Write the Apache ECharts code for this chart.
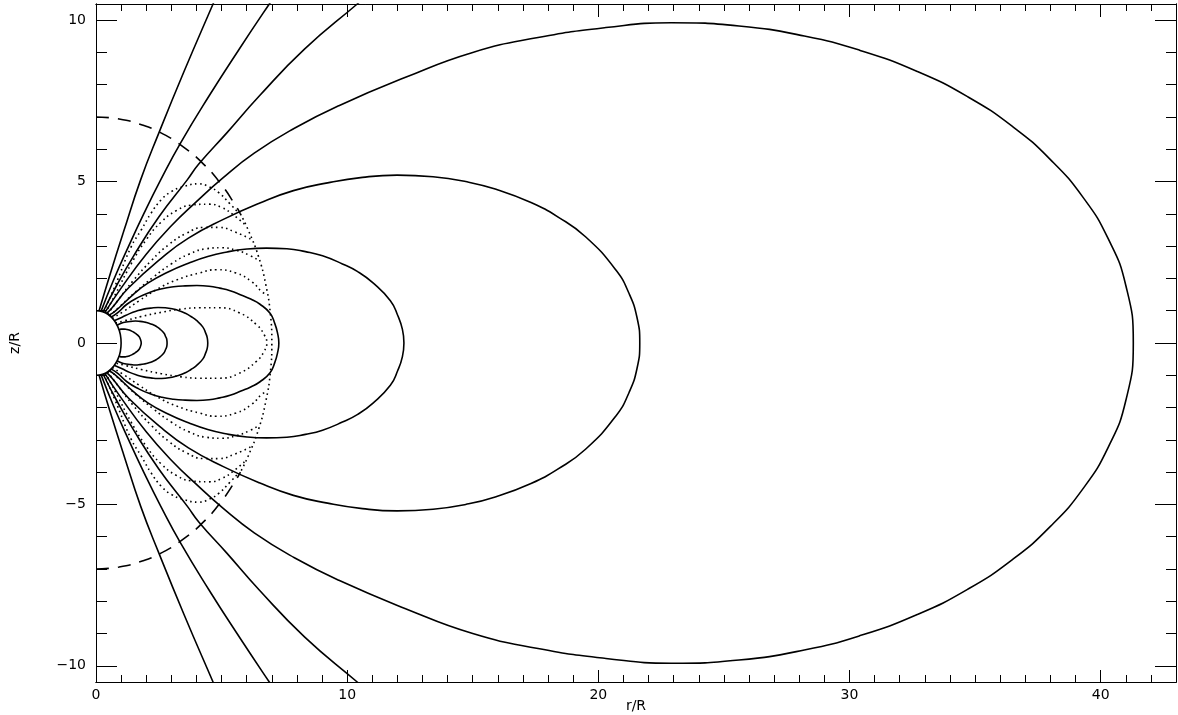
<!DOCTYPE html>
<html><head><meta charset="utf-8">
<script src="https://cdn.jsdelivr.net/npm/echarts@6/dist/echarts.min.js"></script>
<style>html,body{margin:0;padding:0;background:#fff}#c{width:1178px;height:715px}</style>
</head><body><div id="c"></div>
<script>
// ---- tick values ----
const xMajorTicks = [0, 10, 20, 30, 40];
const xMinorTicks = [0,1,2,3,4,5,6,7,8,9,10,11,12,13,14,15,16,17,18,19,20,21,22,23,24,25,26,27,28,29,30,31,32,33,34,35,36,37,38,39,40,41,42,43];
const yMajorTicks = [-10, -5, 0, 5, 10];
const yMinorTicks = [-10,-9,-8,-7,-6,-5,-4,-3,-2,-1,0,1,2,3,4,5,6,7,8,9,10];

// ---- star surface (upper half, r = 1) ----
const starUpper = [[0,1],[0.26,0.97],[0.5,0.87],[0.71,0.71],[0.87,0.5],[0.97,0.26],[1,0]];

// ---- closed solid field lines (upper halves) ----
const loop1 = [[0.92,0.4],[1.0,0.43],[1.12,0.43],[1.22,0.42],[1.32,0.4],[1.44,0.36],[1.53,0.32],[1.62,0.27],[1.72,0.19],[1.76,0.13],[1.79,0.06],[1.8,0]];
const loop2 = [[0.84,0.55],[1.03,0.62],[1.2,0.65],[1.39,0.67],[1.57,0.68],[1.75,0.67],[1.92,0.65],[2.08,0.62],[2.26,0.57],[2.41,0.51],[2.55,0.43],[2.71,0.3],[2.77,0.2],[2.82,0.1],[2.83,0]];
const loop3 = [[0.72,0.69],[1.04,0.8],[1.34,0.91],[1.62,0.99],[1.9,1.05],[2.18,1.08],[2.47,1.1],[2.76,1.09],[3.03,1.06],[3.28,1.01],[3.56,0.92],[3.78,0.82],[4.0,0.7],[4.25,0.5],[4.36,0.32],[4.43,0.16],[4.45,0]];
const loop4 = [[0.6,0.8],[0.88,0.95],[1.23,1.2],[1.7,1.42],[2.18,1.58],[2.63,1.68],[3.09,1.74],[3.55,1.77],[4.02,1.78],[4.5,1.76],[4.93,1.7],[5.34,1.62],[5.8,1.48],[6.16,1.36],[6.53,1.2],[6.93,0.92],[7.12,0.6],[7.23,0.3],[7.28,0]];
const loop5 = [[0.5,0.86],[0.74,0.97],[1.48,1.5],[2.08,1.86],[2.87,2.2],[3.68,2.47],[4.45,2.68],[5.22,2.82],[6.01,2.91],[6.79,2.94],[7.6,2.92],[8.34,2.83],[9.02,2.7],[9.81,2.45],[10.42,2.21],[11.03,1.86],[11.72,1.31],[12.01,0.86],[12.2,0.42],[12.26,0]];
const loop6 = [[0.42,0.91],[0.65,1.1],[1.3,1.71],[2.62,2.64],[3.68,3.25],[5.07,3.83],[6.5,4.33],[7.86,4.72],[9.22,4.96],[10.61,5.13],[11.99,5.2],[13.42,5.15],[14.72,5.0],[15.93,4.76],[17.32,4.35],[18.4,3.9],[19.49,3.29],[20.7,2.26],[21.22,1.54],[21.54,0.79],[21.65,0]];
const loop7 = [[0.35,0.94],[1.0,1.7],[2.0,2.75],[3.0,3.63],[4.0,4.38],[5.03,5.1],[6.3,5.88],[7.9,6.65],[9.67,7.35],[12.3,8.22],[15.0,9.0],[17.6,9.46],[20.3,9.77],[22.9,9.92],[25.6,9.82],[28.2,9.51],[30.4,9.07],[32.7,8.41],[34.7,7.63],[36.5,6.7],[38.0,5.68],[39.3,4.51],[40.3,3.23],[41.0,1.79],[41.3,0]];

// ---- open solid field lines (upper halves) ----
const openA = [[0.12,0.99],[0.55,2.1],[1.1,3.45],[1.78,5.06],[2.5,6.5],[3.5,8.4],[4.66,10.5],[4.72,10.6]];
const openB = [[0.2,0.98],[0.7,1.95],[1.3,3.0],[1.9,4.0],[2.58,5.06],[3.37,6.2],[4.5,7.65],[5.7,9.1],[6.9,10.5],[7.0,10.6]];
const openC = [[0.28,0.96],[0.8,1.75],[1.5,2.7],[2.5,3.9],[3.64,5.06],[4.1,5.55],[5.2,6.5],[6.5,7.65],[8.3,9.1],[10.4,10.5],[10.55,10.6]];

// ---- dashed boundary r = 7 (upper) and dotted continuation ----
const dashArcUpper = [[0,7],[0.92,6.94],[1.81,6.76],[2.68,6.47],[3.5,6.06],[4.27,5.55],[4.95,4.95],[5.55,4.27],[5.75,4.0]];
const edgeArcUpper = [[5.75,4.0],[6.06,3.5],[6.47,2.68],[6.76,1.81],[6.94,0.92],[7.0,0]];

// ---- dotted field lines inside r = 7 (upper halves) ----
const dot1 = [[0.3,0.96],[0.75,1.75],[1.4,2.98],[1.8,3.5],[2.2,4.03],[2.6,4.44],[3.0,4.69],[3.5,4.85],[4.1,4.93],[4.5,4.84],[4.9,4.65],[5.3,4.34],[5.65,4.05]];
const dot2 = [[0.38,0.93],[0.8,1.55],[1.4,2.45],[2.0,3.2],[2.6,3.75],[3.2,4.1],[3.8,4.27],[4.5,4.3],[5.0,4.2],[5.5,3.95],[5.95,3.65]];
const dot3 = [[0.46,0.89],[0.9,1.35],[1.5,1.95],[2.2,2.55],[2.9,3.05],[3.6,3.4],[4.3,3.58],[4.9,3.58],[5.5,3.45],[6.2,3.2]];
const dot4 = [[0.55,0.84],[1.0,1.17],[1.6,1.6],[2.3,2.05],[3.0,2.45],[3.7,2.75],[4.4,2.92],[5.0,2.95],[5.6,2.87],[6.1,2.72],[6.5,2.55]];
const dot5 = [[0.65,0.76],[1.1,0.98],[1.7,1.3],[2.4,1.65],[3.2,1.95],[4.12,2.17],[4.8,2.27],[5.57,2.17],[6.2,1.9],[6.6,1.59],[6.8,1.5]];
const dot6 = [[0.78,0.62],[1.2,0.7],[1.8,0.82],[2.6,0.95],[3.4,1.05],[4.12,1.09],[4.9,1.09],[5.7,0.94],[6.4,0.56],[6.7,0.25],[6.8,0]];

function mirror(p) { return p.map(function (q) { return [q[0], -q[1]]; }); }
function closed(up) { return up.concat(mirror(up.slice(0, -1)).reverse()); }

const SOLID = {color: '#000', width: 1.6, type: 'solid'};
const DOTTED = {color: '#000', width: 1.6, type: [1.6, 3.4]};
const DASHED = {color: '#000', width: 1.6, type: [13, 9]};

function line(data, style) {
  return {type: 'line', data: data, showSymbol: false, symbol: 'none', smooth: 0.5,
    silent: true, animation: false, lineStyle: style, xAxisIndex: 0, yAxisIndex: 0};
}

const series = [];
[dot1, dot2, dot3, dot4, dot5].forEach(function (d) {
  series.push(line(d, DOTTED)); series.push(line(mirror(d), DOTTED));
});
series.push(line(closed(dot6), DOTTED));
series.push(line(closed(edgeArcUpper), DOTTED));
series.push(line(dashArcUpper, DASHED)); series.push(line(mirror(dashArcUpper), DASHED));
[loop1, loop2, loop3, loop4, loop5, loop6, loop7].forEach(function (d) { series.push(line(closed(d), SOLID)); });
[openA, openB, openC].forEach(function (d) { series.push(line(d, SOLID)); series.push(line(mirror(d), SOLID)); });
series.push(line(closed(starUpper), SOLID));

const AX = {color: '#000', width: 1};
const FONT = {color: '#000', fontSize: 14, fontFamily: 'DejaVu Sans'};
function fmt(v) { return v < 0 ? '\u2212' + Math.abs(v) : String(v); }
function xAx(pos, ticks, len, labels) {
  return {type: 'value', min: 0, max: 43, position: pos, gridIndex: 0,
    axisLine: {show: true, onZero: false, lineStyle: AX},
    axisTick: {show: true, inside: true, length: len, lineStyle: AX, customValues: ticks},
    axisLabel: labels ? Object.assign({show: true, margin: 6, customValues: ticks, formatter: fmt}, FONT) : {show: false},
    splitLine: {show: false}, minorTick: {show: false},
    name: labels && pos === 'bottom' ? 'r/R' : '', nameLocation: 'middle', nameGap: 17, nameMoveOverlap: false,
    nameTextStyle: FONT};
}
function yAx(pos, ticks, len, labels) {
  return {type: 'value', min: -10.5, max: 10.5, position: pos, gridIndex: 0,
    axisLine: {show: true, onZero: false, lineStyle: AX},
    axisTick: {show: true, inside: true, length: len, lineStyle: AX, customValues: ticks},
    axisLabel: labels ? Object.assign({show: true, margin: 10, customValues: ticks, formatter: fmt}, FONT) : {show: false},
    splitLine: {show: false}, minorTick: {show: false},
    name: labels && pos === 'left' ? 'z/R' : '', nameLocation: 'middle', nameGap: 74, nameMoveOverlap: false,
    nameTextStyle: FONT};
}

const chart = echarts.init(document.getElementById('c'), null, {renderer: 'canvas'});
chart.setOption({
  backgroundColor: '#fff',
  animation: false,
  grid: {left: 96, top: 4, width: 1080, height: 678, containLabel: false, outerBoundsMode: 'none'},
  xAxis: [xAx('bottom', xMajorTicks, 12, true), xAx('bottom', xMinorTicks, 7, false),
          xAx('top', xMajorTicks, 13, false), xAx('top', xMinorTicks, 7, false)],
  yAxis: [yAx('left', yMajorTicks, 21, true), yAx('left', yMinorTicks, 11, false),
          yAx('right', yMajorTicks, 21, false), yAx('right', yMinorTicks, 10, false)],
  series: series
});
</script></body></html>
